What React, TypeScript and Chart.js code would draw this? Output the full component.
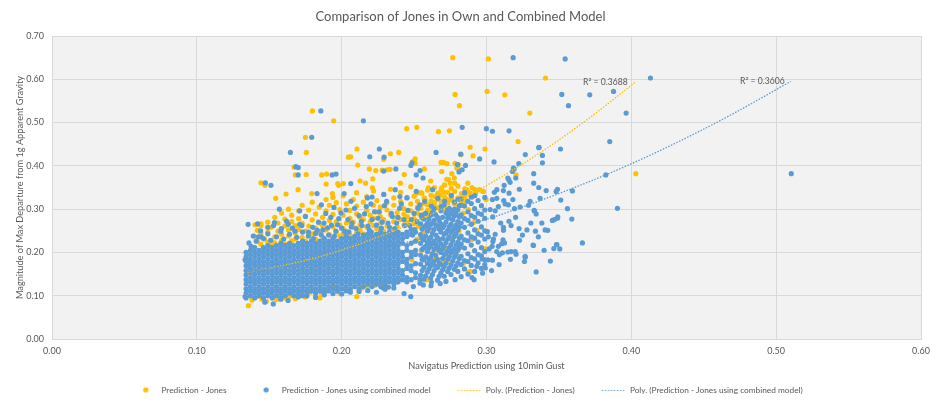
import React, { useEffect, useRef } from 'react';
import { Chart, registerables } from 'chart.js';

Chart.register(...registerables);

const ORANGE = '#FFC000';
const BLUE = '#5B9BD5';
const TEXT = '#595959';
const FONT = 'Lato, "Open Sans", sans-serif';

const title = 'Comparison of Jones in Own and Combined Model';
const xTitle = 'Navigatus Prediction using 10min Gust';
const yTitle = 'Magnitude of Max Departure from 1g Apparent Gravity';
const seriesNames = [
  'Prediction - Jones',
  'Prediction - Jones using combined model',
  'Poly. (Prediction - Jones)',
  'Poly. (Prediction - Jones using combined model)',
];
const r2Labels = ['R² = 0.3688', 'R² = 0.3606'];

// dense blue core, read column by column: [x, y values]
const blueCore: [number, number[]][] = [
  [0.134, [0.095, 0.106, 0.116, 0.127, 0.137, 0.148, 0.158, 0.169, 0.179, 0.19, 0.2]],
  [0.137, [0.1, 0.111, 0.121, 0.132, 0.142, 0.153, 0.163, 0.174, 0.184, 0.195, 0.205]],
  [0.14, [0.095, 0.106, 0.116, 0.127, 0.137, 0.148, 0.158, 0.169, 0.179, 0.19, 0.2, 0.211]],
  [0.143, [0.1, 0.111, 0.121, 0.132, 0.142, 0.153, 0.163, 0.174, 0.184, 0.195, 0.205]],
  [0.146, [0.095, 0.106, 0.116, 0.127, 0.137, 0.148, 0.158, 0.169, 0.179, 0.19, 0.2, 0.211]],
  [0.149, [0.1, 0.111, 0.121, 0.132, 0.142, 0.153, 0.163, 0.174, 0.184, 0.195, 0.205, 0.216]],
  [0.152, [0.095, 0.106, 0.116, 0.127, 0.137, 0.148, 0.158, 0.169, 0.179, 0.19, 0.2, 0.211]],
  [0.155, [0.1, 0.111, 0.121, 0.132, 0.142, 0.153, 0.163, 0.174, 0.184, 0.195, 0.205, 0.216]],
  [0.158, [0.095, 0.106, 0.116, 0.127, 0.137, 0.148, 0.158, 0.169, 0.179, 0.19, 0.2, 0.211, 0.221]],
  [0.161, [0.1, 0.111, 0.121, 0.132, 0.142, 0.153, 0.163, 0.174, 0.184, 0.195, 0.205, 0.216]],
  [0.164, [0.106, 0.116, 0.127, 0.137, 0.148, 0.158, 0.169, 0.179, 0.19, 0.2, 0.211, 0.221]],
  [0.167, [0.1, 0.111, 0.121, 0.132, 0.142, 0.153, 0.163, 0.174, 0.184, 0.195, 0.205, 0.216]],
  [0.17, [0.106, 0.116, 0.127, 0.137, 0.148, 0.158, 0.169, 0.179, 0.19, 0.2, 0.211, 0.221]],
  [0.173, [0.1, 0.111, 0.121, 0.132, 0.142, 0.153, 0.163, 0.174, 0.184, 0.195, 0.205, 0.216, 0.226]],
  [0.176, [0.106, 0.116, 0.127, 0.137, 0.148, 0.158, 0.169, 0.179, 0.19, 0.2, 0.211, 0.221]],
  [0.179, [0.111, 0.121, 0.132, 0.142, 0.153, 0.163, 0.174, 0.184, 0.195, 0.205, 0.216, 0.226]],
  [0.182, [0.106, 0.116, 0.127, 0.137, 0.148, 0.158, 0.169, 0.179, 0.19, 0.2, 0.211, 0.221]],
  [0.185, [0.111, 0.121, 0.132, 0.142, 0.153, 0.163, 0.174, 0.184, 0.195, 0.205, 0.216, 0.226]],
  [0.188, [0.106, 0.116, 0.127, 0.137, 0.148, 0.158, 0.169, 0.179, 0.19, 0.2, 0.211, 0.221, 0.232]],
  [0.191, [0.111, 0.121, 0.132, 0.142, 0.153, 0.163, 0.174, 0.184, 0.195, 0.205, 0.216, 0.226]],
  [0.194, [0.116, 0.127, 0.137, 0.148, 0.158, 0.169, 0.179, 0.19, 0.2, 0.211, 0.221, 0.232]],
  [0.197, [0.111, 0.121, 0.132, 0.142, 0.153, 0.163, 0.174, 0.184, 0.195, 0.205, 0.216, 0.226]],
  [0.2, [0.116, 0.127, 0.137, 0.148, 0.158, 0.169, 0.179, 0.19, 0.2, 0.211, 0.221, 0.232]],
  [0.203, [0.111, 0.121, 0.132, 0.142, 0.153, 0.163, 0.174, 0.184, 0.195, 0.205, 0.216, 0.226, 0.237]],
  [0.206, [0.116, 0.127, 0.137, 0.148, 0.158, 0.169, 0.179, 0.19, 0.2, 0.211, 0.221, 0.232]],
  [0.209, [0.121, 0.132, 0.142, 0.153, 0.163, 0.174, 0.184, 0.195, 0.205, 0.216, 0.226, 0.237]],
  [0.212, [0.116, 0.127, 0.137, 0.148, 0.158, 0.169, 0.179, 0.19, 0.2, 0.211, 0.221, 0.232]],
  [0.215, [0.121, 0.132, 0.142, 0.153, 0.163, 0.174, 0.184, 0.195, 0.205, 0.216, 0.226, 0.237]],
  [0.218, [0.127, 0.137, 0.148, 0.158, 0.169, 0.179, 0.19, 0.2, 0.211, 0.221, 0.232, 0.242]],
  [0.221, [0.121, 0.132, 0.142, 0.153, 0.163, 0.174, 0.184, 0.195, 0.205, 0.216, 0.226, 0.237]],
  [0.224, [0.127, 0.137, 0.148, 0.158, 0.169, 0.179, 0.19, 0.2, 0.211, 0.221, 0.232, 0.242]],
  [0.227, [0.121, 0.132, 0.142, 0.153, 0.163, 0.174, 0.184, 0.195, 0.205, 0.216, 0.226, 0.237, 0.247]],
  [0.23, [0.127, 0.137, 0.148, 0.158, 0.169, 0.179, 0.19, 0.2, 0.211, 0.221, 0.232, 0.242]],
  [0.233, [0.132, 0.142, 0.153, 0.163, 0.174, 0.184, 0.195, 0.205, 0.216, 0.226, 0.237, 0.247]],
  [0.236, [0.127, 0.137, 0.148, 0.158, 0.169, 0.179, 0.19, 0.2, 0.211, 0.221, 0.232, 0.242]],
  [0.239, [0.132, 0.142, 0.153, 0.163, 0.174, 0.184, 0.195, 0.205, 0.216, 0.226, 0.237, 0.247]],
  [0.242, [0.137, 0.148, 0.158, 0.179, 0.19, 0.2, 0.221, 0.232, 0.242]],
  [0.245, [0.132, 0.142, 0.163, 0.174, 0.184, 0.205, 0.216, 0.237, 0.247]],
  [0.248, [0.137, 0.158, 0.169, 0.19, 0.2, 0.221, 0.242, 0.253]],
  [0.251, [0.142, 0.153, 0.174, 0.195, 0.205, 0.226, 0.247]],
];

// thinner blue area to the right of the core: [x, y values]
const blueFringe: [number, number[]][] = [
  [0.2545, [0.147, 0.173, 0.194, 0.221, 0.241, 0.266]],
  [0.2556, [0.158, 0.184, 0.207, 0.232, 0.254, 0.28]],
  [0.2568, [0.138, 0.165, 0.183, 0.211, 0.229, 0.258, 0.277]],
  [0.258, [0.146, 0.19, 0.214, 0.238, 0.262, 0.29]],
  [0.2592, [0.155, 0.174, 0.202, 0.222, 0.249, 0.268]],
  [0.2603, [0.162, 0.183, 0.21, 0.229, 0.256, 0.277]],
  [0.2615, [0.141, 0.169, 0.188, 0.215, 0.235, 0.264, 0.286]],
  [0.2627, [0.149, 0.174, 0.197, 0.221, 0.244, 0.268, 0.292]],
  [0.2638, [0.158, 0.179, 0.207, 0.226, 0.253, 0.274, 0.301]],
  [0.265, [0.168, 0.193, 0.218, 0.24, 0.264, 0.287]],
  [0.2662, [0.136, 0.165, 0.184, 0.212, 0.233, 0.261, 0.281]],
  [0.2673, [0.145, 0.176, 0.205, 0.227, 0.254, 0.274]],
  [0.2685, [0.153, 0.172, 0.2, 0.219, 0.247, 0.266, 0.296]],
  [0.2697, [0.16, 0.186, 0.208, 0.232, 0.257, 0.281]],
  [0.2708, [0.145, 0.167, 0.195, 0.214, 0.242, 0.262, 0.309]],
  [0.272, [0.175, 0.198, 0.223, 0.245, 0.27, 0.291]],
  [0.2732, [0.156, 0.185, 0.203, 0.231, 0.251, 0.28, 0.298]],
  [0.2743, [0.164, 0.19, 0.211, 0.236, 0.259, 0.279, 0.302]],
  [0.2755, [0.149, 0.171, 0.199, 0.218, 0.246, 0.265, 0.289]],
  [0.2767, [0.18, 0.203, 0.227, 0.25, 0.275, 0.297]],
  [0.2778, [0.161, 0.189, 0.208, 0.237, 0.256, 0.284, 0.316]],
  [0.279, [0.169, 0.195, 0.217, 0.243, 0.263, 0.289]],
  [0.2802, [0.156, 0.176, 0.205, 0.223, 0.252, 0.271, 0.298]],
  [0.2813, [0.186, 0.211, 0.233, 0.259, 0.282, 0.308]],
  [0.2825, [0.144, 0.172, 0.191, 0.219, 0.238, 0.268, 0.287, 0.324]],
  [0.2848, [0.162, 0.181, 0.21, 0.229, 0.258, 0.278, 0.307]],
  [0.2872, [0.15, 0.179, 0.197, 0.227, 0.245, 0.274, 0.294]],
  [0.2895, [0.17, 0.188, 0.217, 0.236, 0.265, 0.285, 0.313]],
  [0.2918, [0.156, 0.185, 0.204, 0.233, 0.252, 0.281, 0.301, 0.331]],
  [0.2942, [0.176, 0.195, 0.224, 0.243, 0.272, 0.291, 0.32]],
  [0.2965, [0.163, 0.192, 0.211, 0.24, 0.259, 0.288, 0.308]],
  [0.2988, [0.183, 0.202, 0.231, 0.25, 0.279, 0.298, 0.327]],
];

const blueEdges: [number, number][] = [
  [0.17, 0.097], [0.176, 0.1], [0.182, 0.096], [0.188, 0.102], [0.194, 0.105], [0.2, 0.104], [0.206, 0.108], [0.212, 0.11], [0.218, 0.112],
  [0.224, 0.108], [0.23, 0.115], [0.236, 0.118], [0.158, 0.092], [0.163, 0.089], [0.147, 0.085], [0.1528, 0.081], [0.1333, 0.098],
  [0.2477, 0.098], [0.2431, 0.105], [0.2288, 0.118], [0.2323, 0.12], [0.2381, 0.132], [0.2495, 0.121], [0.2541, 0.129], [0.2564, 0.125],
  [0.2617, 0.123], [0.2783, 0.137], [0.2541, 0.137], [0.262, 0.131], [0.268, 0.128], [0.272, 0.133],
];

// blue mixed in with the orange band
const blueUpper: [number, number][] = [
  [0.136, 0.222], [0.139, 0.238], [0.141, 0.226], [0.144, 0.25], [0.146, 0.232], [0.149, 0.243], [0.151, 0.228], [0.153, 0.262],
  [0.155, 0.236], [0.158, 0.249], [0.16, 0.231], [0.162, 0.272], [0.164, 0.242], [0.166, 0.256], [0.169, 0.235], [0.171, 0.265],
  [0.173, 0.247], [0.175, 0.283], [0.177, 0.238], [0.18, 0.258], [0.182, 0.244], [0.184, 0.27], [0.187, 0.252], [0.189, 0.29],
  [0.191, 0.24], [0.193, 0.263], [0.196, 0.249], [0.198, 0.278], [0.2, 0.256], [0.203, 0.298], [0.205, 0.247], [0.207, 0.268],
  [0.21, 0.255], [0.212, 0.285], [0.214, 0.262], [0.217, 0.306], [0.219, 0.252], [0.221, 0.276], [0.224, 0.263], [0.226, 0.294],
  [0.228, 0.27], [0.231, 0.318], [0.233, 0.258], [0.235, 0.283], [0.238, 0.268], [0.24, 0.302], [0.243, 0.276], [0.245, 0.326],
  [0.247, 0.262], [0.25, 0.29], [0.252, 0.271], [0.254, 0.31], [0.186, 0.31], [0.171, 0.296], [0.157, 0.3], [0.2017, 0.336],
  [0.183, 0.336], [0.2063, 0.359], [0.221, 0.328], [0.237, 0.345], [0.1473, 0.361], [0.1512, 0.355], [0.1354, 0.265], [0.142, 0.266],
  [0.1425, 0.236], [0.1375, 0.214], [0.1333, 0.183], [0.1351, 0.183], [0.1344, 0.169],
  [0.1805, 0.232], [0.1832, 0.251], [0.1858, 0.241], [0.1878, 0.268], [0.1903, 0.257], [0.1925, 0.281], [0.195, 0.238], [0.1972, 0.264],
  [0.1995, 0.291], [0.2021, 0.248], [0.2043, 0.276], [0.2066, 0.259], [0.2089, 0.302], [0.2113, 0.243], [0.2136, 0.272], [0.2158, 0.289],
  [0.2182, 0.261], [0.2205, 0.247], [0.2227, 0.294], [0.2251, 0.279], [0.2274, 0.256], [0.2296, 0.308], [0.232, 0.268], [0.2343, 0.29],
  [0.2366, 0.255], [0.2389, 0.281], [0.2412, 0.312], [0.2435, 0.262], [0.2458, 0.297], [0.2481, 0.276], [0.2504, 0.253], [0.2527, 0.302],
  [0.255, 0.286], [0.2573, 0.318], [0.2596, 0.265], [0.2619, 0.307], [0.2642, 0.289], [0.2665, 0.325], [0.2688, 0.306], [0.2711, 0.318],
  [0.2734, 0.287], [0.2757, 0.331], [0.278, 0.3], [0.2803, 0.322], [0.2826, 0.309], [0.2849, 0.338], [0.2872, 0.318], [0.2895, 0.328],
  [0.1947, 0.304], [0.2064, 0.318], [0.2178, 0.326], [0.2291, 0.334], [0.2402, 0.329], [0.2515, 0.341], [0.2628, 0.345], [0.2202, 0.312],
  [0.2035, 0.235], [0.2149, 0.24], [0.2263, 0.243], [0.2377, 0.248], [0.249, 0.24], [0.1772, 0.247], [0.1725, 0.262], [0.1677, 0.249],
  [0.1631, 0.265], [0.1584, 0.255], [0.1536, 0.269], [0.149, 0.258], [0.1444, 0.236],
];

const blueRight: [number, number][] = [
  [0.3904, 0.302], [0.3559, 0.301], [0.3589, 0.277], [0.349, 0.279], [0.3469, 0.276], [0.3331, 0.296], [0.3343, 0.289], [0.3306, 0.268],
  [0.3382, 0.268], [0.317, 0.262], [0.3338, 0.249], [0.3423, 0.251], [0.3117, 0.251], [0.3322, 0.217], [0.3483, 0.218], [0.3465, 0.209],
  [0.3506, 0.208], [0.3662, 0.222], [0.3441, 0.18], [0.3267, 0.189], [0.3262, 0.179], [0.3343, 0.155], [0.3204, 0.196], [0.317, 0.202],
  [0.3147, 0.201], [0.3114, 0.229], [0.3105, 0.22], [0.3089, 0.195], [0.3041, 0.182], [0.2992, 0.164], [0.2988, 0.172], [0.2914, 0.137],
  [0.29, 0.142], [0.3018, 0.208], [0.301, 0.183], [0.297, 0.185], [0.2933, 0.168], [0.3006, 0.248], [0.3013, 0.236], [0.3048, 0.231],
  [0.3044, 0.225], [0.3039, 0.214], [0.3071, 0.202], [0.3513, 0.321], [0.3117, 0.343], [0.3071, 0.345], [0.3054, 0.339], [0.3041, 0.322],
  [0.3071, 0.325], [0.3119, 0.32], [0.3193, 0.301], [0.3232, 0.305], [0.3301, 0.318], [0.329, 0.309], [0.337, 0.325], [0.3329, 0.297],
  [0.3405, 0.252], [0.3455, 0.274], [0.3492, 0.282], [0.3324, 0.216], [0.3486, 0.218], [0.3117, 0.258], [0.306, 0.242], [0.3267, 0.191],
  [0.3198, 0.202], [0.311, 0.199], [0.3082, 0.214], [0.3124, 0.222], [0.3025, 0.299], [0.3043, 0.282], [0.306, 0.296], [0.3082, 0.306],
  [0.3129, 0.312], [0.3151, 0.31], [0.3182, 0.322], [0.3179, 0.387], [0.3191, 0.393], [0.3147, 0.372], [0.3201, 0.281], [0.3155, 0.272],
  [0.3248, 0.24], [0.3098, 0.268], [0.3225, 0.255], [0.2973, 0.152], [0.3035, 0.158], [0.3087, 0.172], [0.3165, 0.184], [0.3228, 0.228],
  [0.3279, 0.252], [0.3358, 0.236], [0.3398, 0.205],
];

const blueOutliers: [number, number][] = [
  [0.2832, 0.489], [0.215, 0.504], [0.1856, 0.527], [0.1793, 0.466], [0.1646, 0.431], [0.226, 0.439], [0.2194, 0.421], [0.2293, 0.42],
  [0.1684, 0.398], [0.17, 0.396], [0.17, 0.379], [0.1934, 0.379], [0.1961, 0.381], [0.2374, 0.393], [0.2486, 0.407], [0.2478, 0.401],
  [0.2652, 0.431], [0.28, 0.403], [0.2855, 0.401], [0.281, 0.386], [0.2832, 0.391], [0.2822, 0.427], [0.2541, 0.389], [0.2515, 0.379],
  [0.2562, 0.372], [0.229, 0.388], [0.3184, 0.65], [0.3543, 0.647], [0.4132, 0.603], [0.352, 0.565], [0.3713, 0.564], [0.3877, 0.572],
  [0.3566, 0.539], [0.3964, 0.522], [0.2999, 0.486], [0.3041, 0.48], [0.3156, 0.481], [0.3361, 0.442], [0.3511, 0.439], [0.3851, 0.456],
  [0.2953, 0.416], [0.3268, 0.426], [0.3386, 0.424], [0.3386, 0.407], [0.3052, 0.409], [0.3223, 0.405], [0.3186, 0.395], [0.3326, 0.382],
  [0.3202, 0.372], [0.3154, 0.368], [0.3163, 0.362], [0.3122, 0.355], [0.3326, 0.36], [0.3361, 0.35], [0.3412, 0.343], [0.3227, 0.346],
  [0.349, 0.346], [0.3481, 0.341], [0.3593, 0.342], [0.3824, 0.379], [0.5104, 0.382], [0.3156, 0.337], [0.3363, 0.443],
];

const orangeLow: [number, number][] = [
  [0.1356, 0.077], [0.138, 0.09], [0.142, 0.099], [0.145, 0.092], [0.148, 0.087], [0.149, 0.108], [0.152, 0.098], [0.155, 0.091],
  [0.158, 0.102], [0.161, 0.095], [0.164, 0.099], [0.168, 0.093], [0.171, 0.104], [0.175, 0.097], [0.178, 0.108], [0.182, 0.101],
  [0.186, 0.106], [0.19, 0.112], [0.194, 0.118], [0.1942, 0.12], [0.198, 0.108], [0.202, 0.116], [0.206, 0.112], [0.2104, 0.098],
  [0.214, 0.118], [0.218, 0.121], [0.223, 0.124], [0.227, 0.128], [0.143, 0.105], [0.157, 0.112], [0.166, 0.108], [0.185, 0.095],
];

// orange band just above the blue core: [x, y values]
const orangeBand: [number, number[]][] = [
  [0.1395, [0.212, 0.238]], [0.1418, [0.226, 0.251]], [0.1442, [0.219, 0.244, 0.262]], [0.1467, [0.231, 0.209]],
  [0.149, [0.247, 0.224, 0.27]], [0.1513, [0.216, 0.258]], [0.1538, [0.236, 0.281, 0.222]], [0.156, [0.249, 0.268]],
  [0.1585, [0.228, 0.291, 0.242]], [0.1608, [0.261, 0.219, 0.277]], [0.1633, [0.238, 0.252, 0.3]], [0.1655, [0.227, 0.271, 0.286]],
  [0.168, [0.245, 0.262, 0.231]], [0.1703, [0.278, 0.253, 0.296]], [0.1727, [0.235, 0.267, 0.309]], [0.175, [0.249, 0.226, 0.284]],
  [0.1773, [0.261, 0.298, 0.238]], [0.1797, [0.243, 0.275, 0.316]], [0.182, [0.256, 0.231, 0.289]], [0.1845, [0.268, 0.305, 0.247]],
  [0.1868, [0.236, 0.281, 0.262]], [0.1892, [0.252, 0.296, 0.322]], [0.1915, [0.241, 0.274, 0.309]], [0.194, [0.259, 0.233, 0.288, 0.327]],
  [0.1963, [0.247, 0.271, 0.315]], [0.1987, [0.263, 0.238, 0.299]], [0.201, [0.255, 0.286, 0.331, 0.244]], [0.2033, [0.268, 0.312, 0.249]],
  [0.2057, [0.24, 0.279, 0.297]], [0.208, [0.258, 0.322, 0.27]], [0.2103, [0.246, 0.289, 0.307, 0.338]], [0.2127, [0.264, 0.251, 0.281]],
  [0.215, [0.276, 0.316, 0.243]], [0.2173, [0.259, 0.297, 0.329]], [0.2197, [0.271, 0.248, 0.286]], [0.222, [0.262, 0.309, 0.342, 0.279]],
  [0.2243, [0.254, 0.293, 0.32]], [0.2267, [0.268, 0.283, 0.305]], [0.229, [0.249, 0.276, 0.334]], [0.2313, [0.261, 0.298, 0.315]],
  [0.2337, [0.287, 0.255, 0.346]], [0.236, [0.271, 0.309, 0.326]], [0.2383, [0.259, 0.292, 0.281]], [0.2407, [0.276, 0.318, 0.339]],
  [0.243, [0.264, 0.301, 0.288]], [0.2453, [0.283, 0.327, 0.27]], [0.2477, [0.296, 0.312, 0.352]], [0.25, [0.279, 0.33, 0.266]],
  [0.2523, [0.291, 0.318, 0.305]], [0.2547, [0.302, 0.338, 0.284]], [0.257, [0.289, 0.326, 0.313]], [0.2593, [0.31, 0.344, 0.297]],
  [0.2617, [0.298, 0.332, 0.319]], [0.264, [0.315, 0.35, 0.306]], [0.2663, [0.303, 0.337, 0.323]], [0.2687, [0.318, 0.344, 0.31]],
  [0.271, [0.327, 0.301, 0.356]], [0.2733, [0.315, 0.339]], [0.2757, [0.331, 0.322, 0.348]], [0.278, [0.312, 0.341]],
  [0.2803, [0.326, 0.353]], [0.2827, [0.318, 0.336]], [0.285, [0.33, 0.347]], [0.2873, [0.339]], [0.29, [0.328, 0.35]],
  [0.2925, [0.336]], [0.295, [0.345]],
];

const orangeScatter: [number, number][] = [
  [0.2106, 0.439], [0.2046, 0.42], [0.2062, 0.421], [0.229, 0.415], [0.2394, 0.431], [0.2336, 0.428], [0.2111, 0.402], [0.1672, 0.397],
  [0.168, 0.379], [0.1862, 0.379], [0.1896, 0.381], [0.1443, 0.361], [0.1471, 0.355], [0.1793, 0.336], [0.1936, 0.336], [0.1973, 0.359],
  [0.2012, 0.359], [0.198, 0.355], [0.2235, 0.389], [0.228, 0.39], [0.2314, 0.391], [0.2334, 0.392], [0.2191, 0.393], [0.249, 0.41],
  [0.2686, 0.408], [0.2702, 0.408], [0.2803, 0.394], [0.2825, 0.426], [0.278, 0.36], [0.299, 0.439], [0.2887, 0.443], [0.2907, 0.423],
  [0.2974, 0.341], [0.2921, 0.342], [0.2992, 0.208], [0.2887, 0.156], [0.291, 0.269], [0.2933, 0.251], [0.1443, 0.266], [0.1402, 0.264],
  [0.2875, 0.155], [0.2737, 0.179], [0.2587, 0.137], [0.2668, 0.205], [0.2548, 0.237], [0.253, 0.26], [0.2599, 0.283], [0.284, 0.291],
  [0.2875, 0.299], [0.2852, 0.322], [0.2806, 0.306], [0.276, 0.322], [0.2726, 0.322], [0.2737, 0.368], [0.2749, 0.36], [0.2778, 0.372],
  [0.2871, 0.36], [0.2864, 0.345], [0.2921, 0.345], [0.2979, 0.341], [0.2997, 0.322], [0.2847, 0.314], [0.283, 0.322], [0.2887, 0.337],
  [0.2645, 0.329], [0.268, 0.333], [0.2691, 0.349], [0.2709, 0.339], [0.2599, 0.349], [0.2553, 0.337], [0.2576, 0.322], [0.2519, 0.337],
  [0.2783, 0.406], [0.2806, 0.403], [0.2795, 0.395], [0.276, 0.382], [0.2726, 0.369], [0.2691, 0.387], [0.2507, 0.416], [0.2507, 0.406],
  [0.2571, 0.393], [0.2727, 0.405], [0.1755, 0.38], [0.2165, 0.36], [0.2215, 0.37], [0.2432, 0.38], [0.2212, 0.349], [0.2127, 0.365],
  [0.1616, 0.335], [0.1545, 0.325], [0.1699, 0.345], [0.1893, 0.358], [0.2405, 0.36], [0.2615, 0.365], [0.2484, 0.183], [0.2633, 0.183],
  [0.27, 0.179], [0.2725, 0.206], [0.279, 0.196], [0.284, 0.175], [0.276, 0.23], [0.281, 0.25], [0.268, 0.26], [0.29, 0.23],
  [0.252, 0.23], [0.256, 0.245], [0.26, 0.22], [0.263, 0.252], [0.266, 0.235], [0.255, 0.205], [0.262, 0.198], [0.27, 0.215],
];

const orangeOutliers: [number, number][] = [
  [0.2767, 0.65], [0.3013, 0.647], [0.3407, 0.603], [0.3004, 0.572], [0.3126, 0.564], [0.2783, 0.565], [0.2813, 0.539], [0.3299, 0.522],
  [0.2744, 0.481], [0.2668, 0.479], [0.2519, 0.489], [0.2449, 0.486], [0.1798, 0.527], [0.1945, 0.504], [0.175, 0.466], [0.1756, 0.431],
  [0.3218, 0.456], [0.3204, 0.379], [0.4031, 0.382],
];

// trendlines
const orangeTrendX = [0.135, 0.16, 0.19, 0.22, 0.25, 0.28, 0.31, 0.34, 0.37, 0.403];
const orangeTrendY = [0.154, 0.17, 0.195, 0.229, 0.27, 0.318, 0.374, 0.437, 0.508, 0.594];
const blueTrendX = [0.135, 0.17, 0.2, 0.23, 0.26, 0.29, 0.32, 0.35, 0.38, 0.41, 0.44, 0.47, 0.51];
const blueTrendY = [0.155, 0.172, 0.189, 0.211, 0.237, 0.266, 0.299, 0.336, 0.376, 0.42, 0.468, 0.52, 0.595];

const pairs = (a: [number, number][]) => a.map(([x, y]) => ({ x, y }));
const columns = (a: [number, number[]][]) => a.flatMap(([x, ys]) => ys.map((y) => ({ x, y })));
const zipXY = (xs: number[], ys: number[]) => xs.map((x, i) => ({ x, y: ys[i] }));

// legend markers: blank lead-in, then a dot or a dotted line
const makeMarker = (kind: 'dot' | 'line', color: string) => {
  const c = document.createElement('canvas');
  c.width = 39;
  c.height = 10;
  const g = c.getContext('2d')!;
  if (kind === 'dot') {
    g.fillStyle = color;
    g.beginPath();
    g.arc(27.5, 5, 2.6, 0, Math.PI * 2);
    g.fill();
  } else {
    g.strokeStyle = color;
    g.lineWidth = 1.2;
    g.setLineDash([1.5, 1.5]);
    g.beginPath();
    g.moveTo(15, 5.5);
    g.lineTo(39, 5.5);
    g.stroke();
  }
  return c;
};

const plotBackground = {
  id: 'plotBackground',
  beforeDraw(chart: any) {
    const { ctx, chartArea: a } = chart;
    ctx.save();
    ctx.fillStyle = '#f2f2f2';
    ctx.fillRect(a.left, a.top, a.width, a.height);
    ctx.restore();
  },
};

const r2Text = {
  id: 'r2Text',
  afterDatasetsDraw(chart: any) {
    const { ctx } = chart;
    ctx.save();
    ctx.font = `8.6px ${FONT}`;
    ctx.fillStyle = TEXT;
    ctx.textAlign = 'right';
    ctx.textBaseline = 'middle';
    [2, 3].forEach((di, k) => {
      const pts = chart.getDatasetMeta(di).data;
      const end = pts[pts.length - 1];
      ctx.fillText(r2Labels[k], end.x - (k === 0 ? 8 : 6), end.y);
    });
    ctx.restore();
  },
};

export default function App() {
  const canvasRef = useRef<HTMLCanvasElement>(null);

  useEffect(() => {
    if (!canvasRef.current) return;
    Chart.defaults.font.family = FONT;
    const markers = [
      makeMarker('dot', ORANGE),
      makeMarker('dot', BLUE),
      makeMarker('line', ORANGE),
      makeMarker('line', BLUE),
    ];
    const pointStyle = (color: string, order: number) => ({
      pointRadius: 2.6,
      pointHoverRadius: 2.6,
      pointBorderWidth: 0,
      pointBackgroundColor: color,
      backgroundColor: color,
      borderColor: color,
      showLine: false,
      order,
    });
    const trendStyle = (color: string, order: number) => ({
      showLine: true,
      pointRadius: 0,
      borderColor: color,
      borderWidth: 1.3,
      borderDash: [1.5, 1.5],
      cubicInterpolationMode: 'monotone' as const,
      order,
    });

    const chart = new Chart(canvasRef.current, {
      type: 'scatter',
      data: {
        datasets: [
          {
            label: seriesNames[0],
            data: [...columns(orangeBand), ...pairs(orangeLow), ...pairs(orangeScatter), ...pairs(orangeOutliers)],
            ...pointStyle(ORANGE, 3),
          },
          {
            label: seriesNames[1],
            data: [
              ...columns(blueCore), ...columns(blueFringe), ...pairs(blueEdges),
              ...pairs(blueUpper), ...pairs(blueRight), ...pairs(blueOutliers),
            ],
            ...pointStyle(BLUE, 2),
          },
          { label: seriesNames[2], data: zipXY(orangeTrendX, orangeTrendY), ...trendStyle(ORANGE, 1) },
          { label: seriesNames[3], data: zipXY(blueTrendX, blueTrendY), ...trendStyle(BLUE, 0) },
        ],
      },
      options: {
        responsive: true,
        maintainAspectRatio: false,
        animation: false,
        events: [],
        layout: { padding: { left: 0, right: 18, top: 0, bottom: 0 } },
        scales: {
          x: {
            type: 'linear',
            min: 0,
            max: 0.6,
            afterFit: (s: any) => { s.height = 34.7; },
            ticks: { stepSize: 0.1, color: TEXT, font: { size: 9 }, padding: 7, callback: (v: any) => Number(v).toFixed(2) },
            grid: { color: '#d9d9d9', drawTicks: false },
            border: { color: '#d9d9d9' },
            title: { display: true, text: xTitle, color: TEXT, font: { size: 9.2 }, padding: { top: 0, bottom: 2 } },
          },
          y: {
            type: 'linear',
            min: 0,
            max: 0.7,
            afterFit: (s: any) => { s.width = 52; },
            ticks: { stepSize: 0.1, color: TEXT, font: { size: 9 }, padding: 8, callback: (v: any) => Number(v).toFixed(2) },
            grid: { color: '#d9d9d9', drawTicks: false },
            border: { color: '#d9d9d9' },
            title: { display: true, text: yTitle, color: TEXT, font: { size: 9.2 }, padding: { top: 15, bottom: 0 } },
          },
        },
        plugins: {
          title: {
            display: true,
            text: title,
            color: TEXT,
            font: { size: 13, weight: 'normal' },
            padding: { top: 9.2, bottom: 11.2 },
          },
          legend: {
            display: true,
            position: 'bottom',
            labels: {
              usePointStyle: true,
              pointStyleWidth: 39,
              boxHeight: 8.3,
              padding: 12,
              color: TEXT,
              font: { size: 8.3 },
              generateLabels: (c: any) =>
                c.data.datasets.map((ds: any, i: number) => ({
                  text: ds.label,
                  datasetIndex: i,
                  hidden: false,
                  fontColor: TEXT,
                  pointStyle: markers[i],
                  lineWidth: 0,
                  fillStyle: 'transparent',
                  strokeStyle: 'transparent',
                })),
            },
          },
          tooltip: { enabled: false },
        },
      },
      plugins: [plotBackground, r2Text],
    });

    return () => chart.destroy();
  }, []);

  return (
    <div style={{ position: 'absolute', left: 0, top: 0, width: 939, height: 404, background: '#fff' }}>
      <canvas ref={canvasRef} />
    </div>
  );
}
